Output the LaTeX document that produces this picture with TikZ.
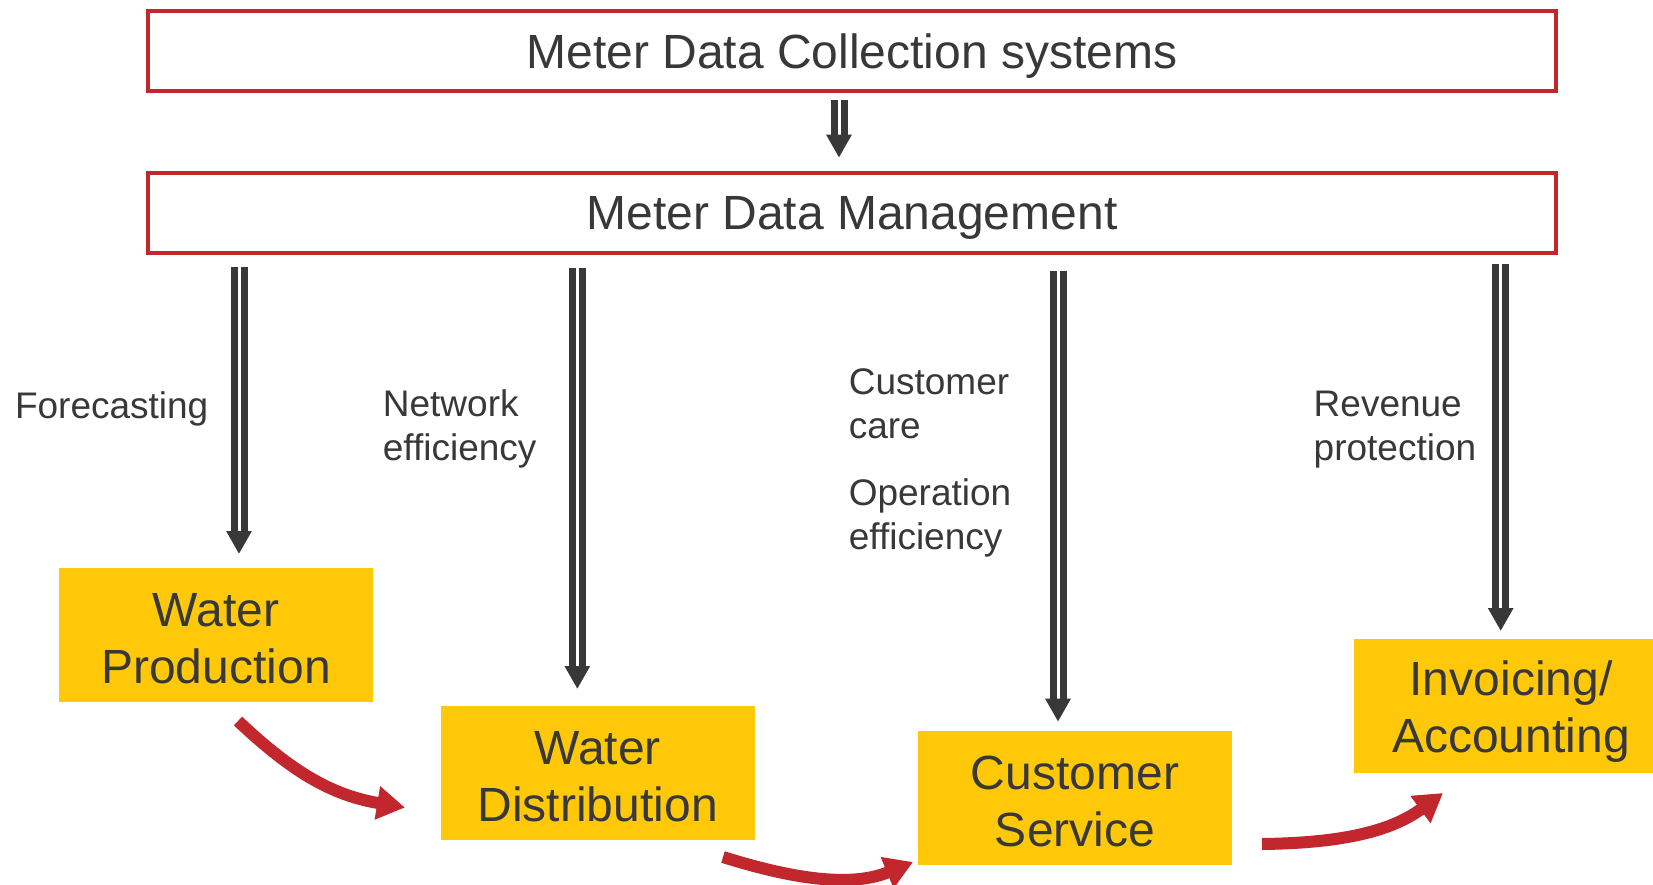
\documentclass[tikz,border=0pt]{standalone}
\usepackage{fontspec}
\setmainfont{Liberation Sans}
\usetikzlibrary{arrows.meta}
\definecolor{boxred}{HTML}{C1272D}
\definecolor{boxyellow}{HTML}{FFC808}
\definecolor{ink}{HTML}{383838}
\begin{document}
\begin{tikzpicture}[x=1pt,y=-1pt,
  redbox/.style={draw=boxred, line width=3.6pt, fill=white, minimum width=1407.5pt, minimum height=80pt, inner sep=0pt, text=ink, text depth=0pt, font=\fontsize{48}{58}\selectfont},
  yellowbox/.style={fill=boxyellow, draw=none, minimum width=314pt, minimum height=134pt, inner sep=0pt},
  boxtext/.style={align=center, inner sep=0pt, text=ink, font=\fontsize{48}{57}\selectfont},
  lbl/.style={anchor=west, align=left, inner sep=0pt, text=ink, font=\fontsize{37}{44}\selectfont},
  dblarrow/.style={draw=ink, line width=7pt, double=white, double distance=3pt, -{Triangle[width=24pt,length=23pt]}},
  flowarrow/.style={draw=boxred, line width=12pt, -{Triangle[width=32pt,length=28pt]}}
]
\useasboundingbox (0,0) rectangle (1653,884);
\fill[white] (0,0) rectangle (1653,884);

\node[redbox] (mdc) at (852,51.2) {Meter Data Collection systems};
\node[redbox] (mdm) at (852,213) {Meter Data Management};

\node[yellowbox] (wp) at (216,635) {};
\node[yellowbox] (wd) at (597.7,773) {};
\node[yellowbox] (cs) at (1075,797.7) {};
\node[yellowbox] (ia) at (1511,706) {};
\node[boxtext] (wpt) at ([yshift=-4pt]wp.center) {Water\\Production};
\node[boxtext] (wdt) at ([yshift=-4pt]wd.center) {Water\\Distribution};
\node[boxtext] (cst) at ([yshift=-4pt]cs.center) {Customer\\Service};
\node[boxtext] (iat) at ([yshift=-6pt]ia.center) {Invoicing/\\Accounting};

\node[lbl] (l1) at (14.8,409) {Forecasting};
\node[lbl] (l2) at (382.7,429) {Network\\efficiency};
\node[lbl] (l3) at (848.6,404) {Customer\\care};
\node[lbl] (l4) at (848.6,517.5) {Operation\\efficiency};
\node[lbl] (l5) at (1313.5,430) {Revenue\\protection};

\coordinate (a0s) at (839,100);   \coordinate (a0e) at (839,157.7);
\coordinate (a1s) at (239,267);   \coordinate (a1e) at (239,554);
\coordinate (a2s) at (577.3,268); \coordinate (a2e) at (577.3,689);
\coordinate (a3s) at (1058,270.7);\coordinate (a3e) at (1058,721.7);
\coordinate (a4s) at (1500.7,264);\coordinate (a4e) at (1500.7,631);

\draw[dblarrow] (a0s) -- (a0e);
\draw[dblarrow] (a1s) -- (a1e);
\draw[dblarrow] (a2s) -- (a2e);
\draw[dblarrow] (a3s) -- (a3e);
\draw[dblarrow] (a4s) -- (a4e);

\coordinate (f1s) at (238,721);  \coordinate (f1e) at (405,807.5);
\coordinate (f2s) at (723,857);  \coordinate (f2e) at (913,862);
\coordinate (f3s) at (1262,844); \coordinate (f3e) at (1443,793);

\draw[flowarrow] (f1s) .. controls (290,770) and (330,795) .. (f1e);
\draw[flowarrow] (f2s) .. controls (790,878) and (850,888) .. (f2e);
\draw[flowarrow] (f3s) .. controls (1340,843) and (1390,832) .. (f3e);
\end{tikzpicture}
\end{document}
